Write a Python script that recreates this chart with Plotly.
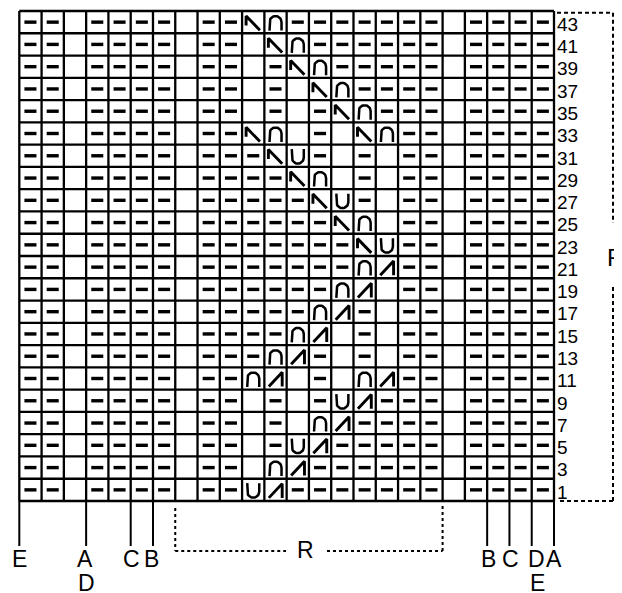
import numpy as np
import plotly.graph_objects as go

# ---------------- data ----------------
# Row numbers, top to bottom (each chart row = one odd row)
row_numbers = list(range(43, 0, -2))

# Symbol codes: '-' purl dash, '.' empty, 'N' right-leaning dec (|\),
# 'A' left-leaning dec (/|), 'n' arch (∩), 'u' cup (U)
left_cells = "--.----."      # columns 1-8
right_cells = "--.----"      # columns 18-24
center_cells = [             # columns 9-17, rows 43 .. 1
    "--Nn-----",  # 43
    "--.Nn----",  # 41
    "--.-Nn---",  # 39
    "--.-.Nn--",  # 37
    "--.-.-Nn-",  # 35
    "--Nn.-.Nn",  # 33
    "---Nu-.-.",  # 31
    "----Nn.-.",  # 29
    "-----Nu-.",  # 27
    "------Nn.",  # 25
    "-------Nu",  # 23
    "-------nA",  # 21
    "------nA.",  # 19
    "-----nA-.",  # 17
    "----nA.-.",  # 15
    "---nA-.-.",  # 13
    "--nA.-.nA",  # 11
    "--.-.-uA-",  # 9
    "--.-.nA--",  # 7
    "--.-uA---",  # 5
    "--.nA----",  # 3
    "--uA-----",  # 1
]
chart_rows = [left_cells + c + right_cells for c in center_cells]

# bottom size markers: label text and the column boundary they point to
marker_labels = ["E", "A", "C", "B", "B", "C", "D", "A"]
marker_cols = [0, 3, 5, 6, 21, 22, 23, 24]
second_labels = ["D", "E"]
second_label_cols = [3, 23]
repeat_label = "R"
repeat_cols = [7, 19]

n_rows = len(chart_rows)
n_cols = len(chart_rows[0])

# ---------------- page-pixel <-> data helpers (layout only) ----------------
PAGE_W, PAGE_H = 622, 593
BODY = 8                  # default page body margin
W, H = PAGE_W - BODY, PAGE_H - BODY
GX0, GX1 = 19.3, 554.0    # grid left/right (page px)
GY0, GY1 = 11.0, 501.0    # grid top/bottom (page px)
cw = (GX1 - GX0) / n_cols
rh = (GY1 - GY0) / n_rows


def px2x(p):
    return (p - GX0) / cw


def px2y(p):
    return (GY1 - p) / rh


xr = [px2x(BODY), px2x(PAGE_W)]
yr = [px2y(PAGE_H), px2y(BODY)]

fig = go.Figure()


def add_lines(segs, width, dash=None, color="black"):
    xs, ys = [], []
    for sx, sy in segs:
        xs += list(sx) + [None]
        ys += list(sy) + [None]
    fig.add_trace(go.Scatter(x=xs, y=ys, mode="lines", hoverinfo="skip",
                             line=dict(color=color, width=width, dash=dash),
                             showlegend=False, cliponaxis=False))


# grid
grid = []
for c in range(n_cols + 1):
    grid.append(([c, c], [0, n_rows]))
for r in range(n_rows + 1):
    grid.append(([0, n_cols], [r, r]))
add_lines(grid, 2.3)

# symbols
dashes, diag, arcs = [], [], []
t = np.linspace(0, np.pi, 20)
for i, row in enumerate(chart_rows):
    r = n_rows - 1 - i
    for c, s in enumerate(row):
        if s == "-":
            dashes.append(([c + 0.23, c + 0.77], [r + 0.5, r + 0.5]))
        elif s == "N":
            diag.append(([c + 0.18, c + 0.18, c + 0.8],
                         [r + 0.35, r + 0.78, r + 0.14]))
        elif s == "A":
            diag.append(([c + 0.2, c + 0.8, c + 0.8],
                         [r + 0.14, r + 0.78, r + 0.14]))
        elif s == "n":
            ax = list(c + 0.5 - 0.27 * np.cos(t))
            ay = list(r + 0.5 + 0.27 * np.sin(t))
            arcs.append(([c + 0.23] + ax + [c + 0.77],
                         [r + 0.12] + ay + [r + 0.12]))
        elif s == "u":
            ax = list(c + 0.5 - 0.27 * np.cos(t))
            ay = list(r + 0.42 - 0.27 * np.sin(t))
            arcs.append(([c + 0.23] + ax + [c + 0.77],
                         [r + 0.8] + ay + [r + 0.8]))
add_lines(dashes, 3.4)
add_lines(diag, 2.9)
add_lines(arcs, 2.5)

ann = []
FONT = "Arial, Liberation Sans, sans-serif"

# row numbers
for i, num in enumerate(row_numbers):
    r = n_rows - 1 - i
    ann.append(dict(x=px2x(555), y=r + 0.5 - 0.1, text=str(num),
                    xanchor="left", yanchor="middle", showarrow=False,
                    font=dict(size=19, color="black", family=FONT)))

# right repeat bracket (dashed)
bx = px2x(613)
add_lines([([px2x(557), bx], [n_rows - 0.08, n_rows - 0.08]),
           ([bx, bx], [n_rows - 0.08, px2y(223)]),
           ([bx, bx], [px2y(287), 0]),
           ([px2x(560), bx], [0, 0])], 2, dash="4px,3px")
# label partly running off the right edge, as in the source
fig.add_trace(go.Scatter(x=[px2x(607)], y=[px2y(260)],
                         mode="text", text=[repeat_label],
                         textposition="middle right", hoverinfo="skip",
                         textfont=dict(size=24, color="black", family=FONT),
                         showlegend=False, cliponaxis=False))

# bottom marker lines
line_bottom = px2y(546)
add_lines([([c, c], [0, line_bottom]) for c in marker_cols], 2)

label_offsets = [0, -0.03, 0.05, -0.08, 0.04, 0.05, 0.2, 0.0]
for lab, c, off in zip(marker_labels, marker_cols, label_offsets):
    ann.append(dict(x=c + off, y=px2y(559), text=lab, xanchor="center",
                    yanchor="middle", showarrow=False,
                    font=dict(size=23, color="black", family=FONT)))
for lab, c, off in zip(second_labels, second_label_cols, [0.0, 0.28]):
    ann.append(dict(x=c + off, y=px2y(583), text=lab, xanchor="center",
                    yanchor="middle", showarrow=False,
                    font=dict(size=23, color="black", family=FONT)))

# bottom repeat bracket (dotted)
a, b = repeat_cols
ry = px2y(551)
add_lines([([a, a], [px2y(508), ry]),
           ([a, px2x(286)], [ry, ry]),
           ([px2x(327), b], [ry, ry]),
           ([b, b], [ry, px2y(505)])], 2, dash="3px,3px")
ann.append(dict(x=(a + b) / 2 - 0.15, y=ry + 0.05, text=repeat_label,
                xanchor="center", yanchor="middle", showarrow=False,
                font=dict(size=23, color="black", family=FONT)))

fig.update_layout(
    width=W, height=H, autosize=False,
    margin=dict(l=0, r=0, t=0, b=0, pad=0),
    paper_bgcolor="white", plot_bgcolor="white",
    xaxis=dict(range=xr, visible=False, fixedrange=True),
    yaxis=dict(range=yr, visible=False, fixedrange=True),
    annotations=ann,
    showlegend=False,
)

fig.write_html("out.html")
